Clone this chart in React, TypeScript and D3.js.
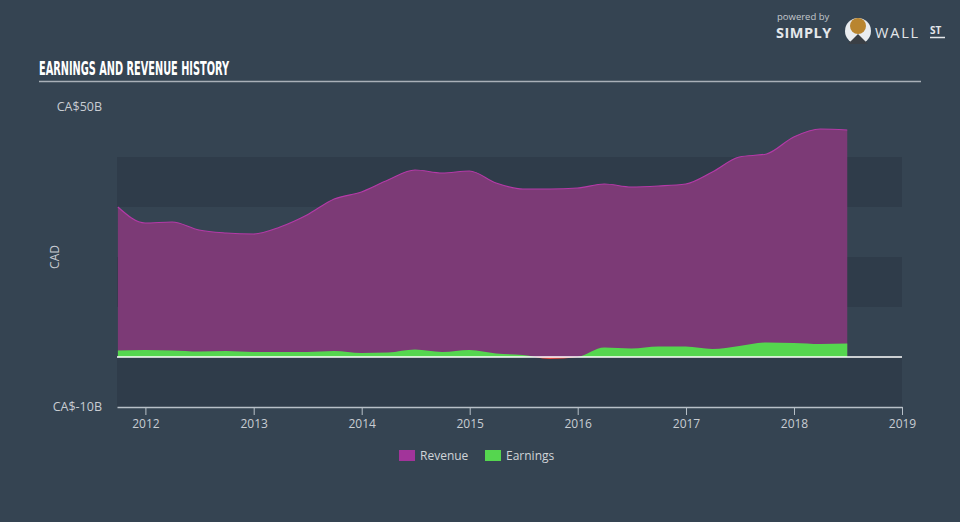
import React, { useEffect, useRef } from "react";
import * as d3 from "d3";

// quarter end dates
const quarters = [
  "2011-09-30", "2011-12-31", "2012-03-31", "2012-06-30", "2012-09-30", "2012-12-31",
  "2013-03-31", "2013-06-30", "2013-09-30", "2013-12-31", "2014-03-31", "2014-06-30",
  "2014-09-30", "2014-12-31", "2015-03-31", "2015-06-30", "2015-09-30", "2015-12-31",
  "2016-03-31", "2016-06-30", "2016-09-30", "2016-12-31", "2017-03-31", "2017-06-30",
  "2017-09-30", "2017-12-31", "2018-03-31", "2018-06-30",
];

// CAD billions
const revenue = [
  30.0, 26.8, 27.0, 25.4, 24.8, 24.6, 26.0, 28.4, 31.6, 33.0, 35.4, 37.4, 36.8, 37.2,
  34.8, 33.6, 33.6, 33.8, 34.6, 34.0, 34.2, 34.6, 37.0, 40.0, 40.6, 44.0, 45.6, 45.4,
];

const earnings = [
  1.3, 1.4, 1.3, 1.1, 1.2, 1.0, 1.0, 1.0, 1.2, 0.8, 0.9, 1.5, 1.0, 1.4,
  0.7, 0.4, -0.4, 0.0, 1.9, 1.7, 2.1, 2.1, 1.6, 2.2, 2.9, 2.8, 2.6, 2.7,
];

const yTickLabels = [
  { value: 50, label: "CA$50B" },
  { value: -10, label: "CA$-10B" },
];

const bandRanges = [
  [40, 30],
  [20, 10],
  [0, -10],
];

const legendItems = [
  { name: "Revenue", color: "#a2349a" },
  { name: "Earnings", color: "#55d64f" },
];

type Row = { date: Date; revenue: number; earnings: number };

const App: React.FC = () => {
  const svgRef = useRef<SVGSVGElement>(null);

  useEffect(() => {
    if (!svgRef.current) return;
    d3.select(svgRef.current).selectAll("*").remove();

    const width = 960;
    const height = 522;
    const parse = d3.timeParse("%Y-%m-%d");
    const rows: Row[] = quarters.map((q, i) => ({
      date: parse(q) as Date,
      revenue: revenue[i],
      earnings: earnings[i],
    }));

    const svg = d3
      .select(svgRef.current)
      .attr("width", width)
      .attr("height", height);

    svg.append("rect").attr("width", width).attr("height", height).attr("fill", "#354452");

    const left = 117;
    const right = 902;
    const x = d3
      .scaleTime()
      .domain([new Date(2011, 8, 27), new Date(2019, 0, 1)])
      .range([left, right]);
    const y = d3.scaleLinear().domain([-10, 50]).range([407, 107]);

    // darker bands
    svg
      .append("g")
      .selectAll("rect")
      .data(bandRanges)
      .join("rect")
      .attr("x", left)
      .attr("width", right - left)
      .attr("y", (d) => y(d[0]))
      .attr("height", (d) => y(d[1]) - y(d[0]))
      .attr("fill", "#2f3c4a");

    // title
    svg
      .append("text")
      .attr("x", 39)
      .attr("y", 75)
      .attr("fill", "#ffffff")
      .attr("font-family", "DejaVu Sans Condensed, sans-serif")
      .attr("font-weight", "bold")
      .attr("font-size", 19)
      .attr("textLength", 190)
      .attr("lengthAdjust", "spacingAndGlyphs")
      .text("EARNINGS AND REVENUE HISTORY");
    svg
      .append("line")
      .attr("x1", 39)
      .attr("x2", 921)
      .attr("y1", 81.5)
      .attr("y2", 81.5)
      .attr("stroke", "#a9b0b8")
      .attr("stroke-width", 1.5);

    // logo
    const logo = svg.append("g").attr("font-family", "Open Sans, sans-serif");
    logo
      .append("text")
      .attr("x", 777)
      .attr("y", 20)
      .attr("fill", "#c3c8cd")
      .attr("font-size", 9.5)
      .text("powered by");
    logo
      .append("text")
      .attr("x", 776)
      .attr("y", 38)
      .attr("fill", "#e4e7ea")
      .attr("font-size", 14.5)
      .attr("font-weight", "bold")
      .attr("letter-spacing", 0.5)
      .text("SIMPLY");
    logo.append("circle").attr("cx", 858).attr("cy", 31).attr("r", 13).attr("fill", "#e9ecef");
    logo.append("circle").attr("cx", 858).attr("cy", 26).attr("r", 8).attr("fill", "#b9852f");
    logo.append("path").attr("d", "M848,44 L858,34 L868,44 Z").attr("fill", "#3a3f45");
    logo
      .append("text")
      .attr("x", 875)
      .attr("y", 38)
      .attr("fill", "#e4e7ea")
      .attr("font-size", 14.5)
      .attr("letter-spacing", 1.8)
      .text("WALL");
    logo
      .append("text")
      .attr("x", 930)
      .attr("y", 34)
      .attr("fill", "#e4e7ea")
      .attr("font-size", 10)
      .attr("font-weight", "bold")
      .text("ST");
    logo
      .append("line")
      .attr("x1", 930)
      .attr("x2", 945)
      .attr("y1", 37.5)
      .attr("y2", 37.5)
      .attr("stroke", "#e4e7ea")
      .attr("stroke-width", 1.5);

    const curve = d3.curveMonotoneX;

    // revenue area
    const revArea = d3
      .area<Row>()
      .x((d) => x(d.date))
      .y0(y(0))
      .y1((d) => y(d.revenue))
      .curve(curve);
    const revLine = d3
      .line<Row>()
      .x((d) => x(d.date))
      .y((d) => y(d.revenue))
      .curve(curve);
    svg.append("path").datum(rows).attr("d", revArea).attr("fill", "#7c3a76");
    svg
      .append("path")
      .datum(rows)
      .attr("d", revLine)
      .attr("fill", "none")
      .attr("stroke", "#b43aa7")
      .attr("stroke-width", 1.2);

    // earnings area, green above zero and red below
    const defs = svg.append("defs");
    defs
      .append("clipPath")
      .attr("id", "above")
      .append("rect")
      .attr("x", 0)
      .attr("y", 0)
      .attr("width", width)
      .attr("height", y(0));
    defs
      .append("clipPath")
      .attr("id", "below")
      .append("rect")
      .attr("x", 0)
      .attr("y", y(0))
      .attr("width", width)
      .attr("height", height - y(0));
    const earnArea = d3
      .area<Row>()
      .x((d) => x(d.date))
      .y0(y(0))
      .y1((d) => y(d.earnings))
      .curve(curve);
    svg
      .append("path")
      .datum(rows)
      .attr("d", earnArea)
      .attr("fill", "#55d64f")
      .attr("clip-path", "url(#above)");
    svg
      .append("path")
      .datum(rows)
      .attr("d", earnArea)
      .attr("fill", "#e24a40")
      .attr("clip-path", "url(#below)");

    // zero line
    svg
      .append("line")
      .attr("x1", left)
      .attr("x2", right)
      .attr("y1", y(0))
      .attr("y2", y(0))
      .attr("stroke", "#ffffff")
      .attr("stroke-width", 1.5);

    // x axis
    const xAxis = svg
      .append("g")
      .attr("transform", `translate(0,${y(-10)})`)
      .call(
        d3
          .axisBottom(x)
          .ticks(d3.timeYear.every(1))
          .tickFormat((d) => d3.timeFormat("%Y")(d as Date))
          .tickSize(8)
          .tickSizeOuter(0)
          .tickPadding(4)
      );
    xAxis.select(".domain").attr("stroke", "#b8c0c8").attr("stroke-width", 1.5);
    xAxis.selectAll(".tick line").attr("stroke", "#b8c0c8");
    xAxis
      .selectAll(".tick text")
      .attr("fill", "#c8cdd2")
      .attr("font-family", "Open Sans, sans-serif")
      .attr("font-size", 12);

    // y labels
    svg
      .append("g")
      .selectAll("text")
      .data(yTickLabels)
      .join("text")
      .attr("x", 102)
      .attr("y", (d) => y(d.value))
      .attr("dy", "0.35em")
      .attr("text-anchor", "end")
      .attr("fill", "#c8cdd2")
      .attr("font-family", "Open Sans, sans-serif")
      .attr("font-size", 12.5)
      .text((d) => d.label);
    svg
      .append("text")
      .attr("transform", `translate(55,${y(20)}) rotate(-90)`)
      .attr("dy", "0.35em")
      .attr("text-anchor", "middle")
      .attr("fill", "#c8cdd2")
      .attr("font-family", "Open Sans, sans-serif")
      .attr("font-size", 12)
      .text("CAD");

    // legend
    const legend = svg.append("g").attr("font-family", "Open Sans, sans-serif");
    const legendX = [399, 485];
    legendItems.forEach((item, i) => {
      legend
        .append("rect")
        .attr("x", legendX[i])
        .attr("y", 450)
        .attr("width", 16)
        .attr("height", 11)
        .attr("fill", item.color);
      legend
        .append("text")
        .attr("x", legendX[i] + 21)
        .attr("y", 456)
        .attr("dy", "0.35em")
        .attr("fill", "#d0d4d8")
        .attr("font-size", 12)
        .text(item.name);
    });
  }, []);

  return <svg ref={svgRef} style={{ position: "absolute", left: 0, top: 0 }}></svg>;
};

export default App;
